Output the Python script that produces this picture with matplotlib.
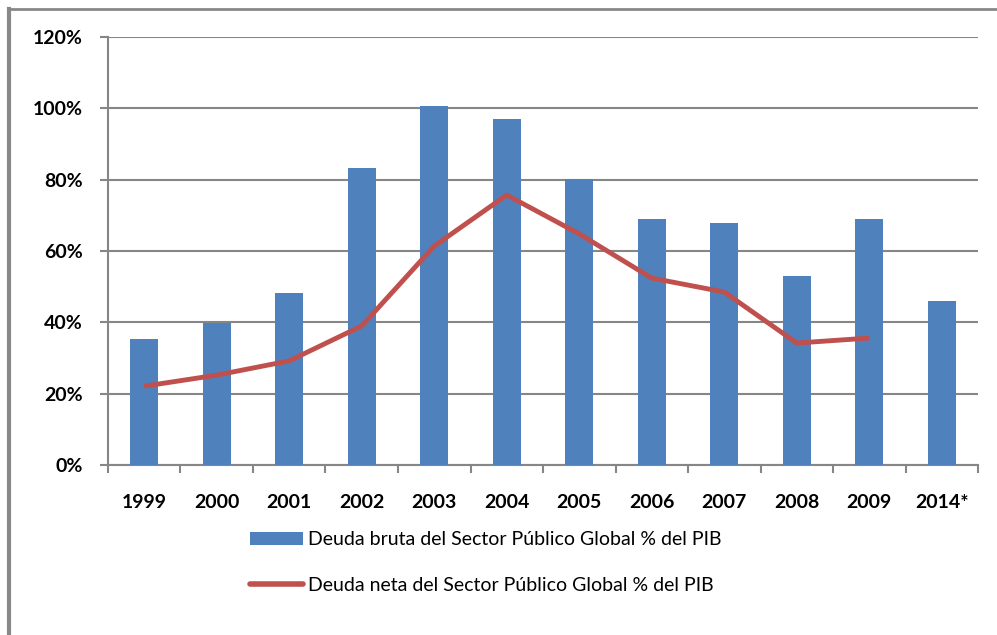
import matplotlib
matplotlib.use("Agg")
import matplotlib.pyplot as plt
from matplotlib.lines import Line2D
from matplotlib.patches import Patch
from matplotlib.ticker import FuncFormatter, FixedLocator

plt.rcParams['font.family'] = ['Lato', 'DejaVu Sans']

years = ["1999", "2000", "2001", "2002", "2003", "2004", "2005",
         "2006", "2007", "2008", "2009", "2014*"]
gross_debt = [35.3, 39.8, 48.2, 83.3, 100.7, 97.0, 80.2, 69.0, 67.8, 53.0, 69.0, 46.0]
net_debt = [22.1, 25.2, 29.2, 39.0, 61.4, 75.7, 64.8, 52.4, 48.5, 34.2, 35.6]

bar_color = '#4F81BD'
line_color = '#C0504D'
grid_color = '#868686'

fig = plt.figure(figsize=(9.97, 6.35), dpi=100)
ax = fig.add_axes([0.1083, 0.2677, 0.8727, 0.674])

x = list(range(len(years)))
ax.bar(x, gross_debt, width=0.39, color=bar_color, zorder=3)
ax.plot(x[:len(net_debt)], net_debt, color=line_color, linewidth=3.5,
        solid_capstyle='butt', zorder=4)

ax.set_xlim(-0.5, len(years) - 0.5)
ax.set_ylim(0, 120)
ax.set_yticks(range(0, 121, 20))
ax.yaxis.set_major_formatter(FuncFormatter(lambda v, p: "%d%%" % v))
ax.grid(axis='y', color=grid_color, linewidth=1.5, zorder=0)

ax.set_xticks(x)
ax.set_xticklabels(years)
ax.xaxis.set_minor_locator(FixedLocator([i - 0.5 for i in range(len(years) + 1)]))
ax.tick_params(axis='x', which='major', length=0, pad=21, labelsize=14)
ax.tick_params(axis='x', which='minor', length=6, width=1.5, color=grid_color)
ax.tick_params(axis='y', length=6, width=1.5, color=grid_color, pad=12, labelsize=14)
for lab in ax.get_xticklabels() + ax.get_yticklabels():
    lab.set_fontweight('bold')

for s in ['top', 'right']:
    ax.spines[s].set_visible(False)
for s in ['left', 'bottom']:
    ax.spines[s].set_color(grid_color)
    ax.spines[s].set_linewidth(1.5)

handles = [Patch(facecolor=bar_color),
           Line2D([], [], color=line_color, linewidth=4, solid_capstyle='round')]
labels = ["Deuda bruta del Sector Público Global % del PIB",
          "Deuda neta del Sector Público Global % del PIB"]
fig.legend(handles, labels, loc='upper left', bbox_to_anchor=(0.251, 0.163),
           frameon=False, fontsize=14, handlelength=2.7, handleheight=0.6,
           handletextpad=0.28, labelspacing=1.45, borderaxespad=0, borderpad=0)

# chart frame
fig.add_artist(Line2D([0.009, 1.0], [0.9858, 0.9858], color='#888888', linewidth=2))
fig.add_artist(Line2D([0.009, 0.009], [0.0, 0.9858], color='#888888', linewidth=3))

fig.savefig("out.png", dpi=100)
